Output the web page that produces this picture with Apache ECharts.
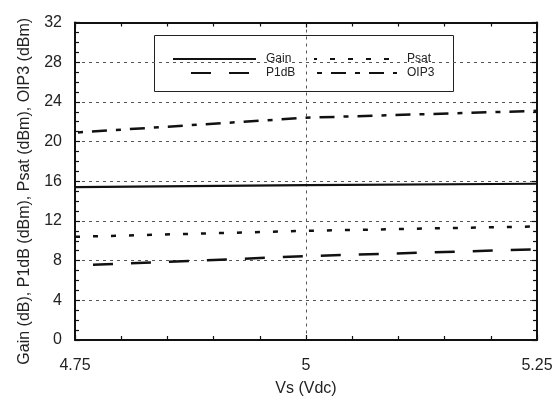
<!DOCTYPE html>
<html>
<head>
<meta charset="utf-8">
<script src="https://cdn.jsdelivr.net/npm/echarts@6/dist/echarts.min.js"></script>
<style>html,body{margin:0;padding:0;background:#fff}#c{width:559px;height:402px}</style>
</head>
<body>
<div id="c"></div>
<script>
var vs = [4.75, 5.0, 5.25];
var gain = [15.4, 15.6, 15.75];
var psat = [10.4, 11.0, 11.45];
var p1db = [7.5, 8.45, 9.15];
var oip3 = [20.9, 22.4, 23.1];
var xTicks = [4.75, 5, 5.25];
var yTicks = [0, 4, 8, 12, 16, 20, 24, 28, 32];

function pairs(ys){ return vs.map(function(x,i){return [x, ys[i]];}); }

var FONT = 'Liberation Sans, Arial, Helvetica, sans-serif';
var chart = echarts.init(document.getElementById('c'), null, {renderer:'canvas'});

var gridStyle = {show:true, lineStyle:{color:'#555', width:1, type:[3,4]}};
var axisLineStyle = {show:true, onZero:false, lineStyle:{color:'#111', width:2}};
var legendCommon = {
  orient:'vertical', top:52, padding:0, itemGap:0,
  itemWidth:83, itemHeight:14,
  itemStyle:{opacity:0},
  textStyle:{fontFamily:FONT, fontSize:12, color:'#222', lineHeight:14, padding:[0,0,0,5]}
};

var option = {
  animation:false,
  backgroundColor:'#fff',
  grid:{left:75, right:22, top:22.5, bottom:62, containLabel:false},
  xAxis:[{
    type:'value', min:xTicks[0], max:xTicks[xTicks.length-1], interval:0.25,
    axisLine:axisLineStyle,
    axisTick:{show:true, inside:true, length:5, lineStyle:{color:'#111', width:1.2}},
    minorTick:{show:true, splitNumber:5, length:4, lineStyle:{color:'#111', width:1.2}},
    axisLabel:{fontFamily:FONT, fontSize:16, color:'#222', margin:18},
    splitLine:gridStyle,
    name:'Vs (Vdc)', nameLocation:'middle', nameGap:41,
    nameTextStyle:{fontFamily:FONT, fontSize:16, color:'#222'}
  },{
    type:'value', position:'top', min:xTicks[0], max:xTicks[xTicks.length-1], interval:0.25,
    axisLine:axisLineStyle,
    axisTick:{show:true, inside:true, length:5, lineStyle:{color:'#111', width:1.2}},
    minorTick:{show:true, splitNumber:5, length:4, lineStyle:{color:'#111', width:1.2}},
    axisLabel:{show:false}, splitLine:{show:false}
  }],
  yAxis:[{
    type:'value', min:yTicks[0], max:yTicks[yTicks.length-1], interval:4,
    axisLine:axisLineStyle,
    axisTick:{show:true, inside:true, length:5, lineStyle:{color:'#111', width:1.2}},
    minorTick:{show:true, splitNumber:4, length:4, lineStyle:{color:'#111', width:1.2}},
    axisLabel:{fontFamily:FONT, fontSize:16, color:'#222', margin:13},
    splitLine:gridStyle,
    name:'Gain (dB), P1dB (dBm), Psat (dBm), OIP3 (dBm)', nameLocation:'middle', nameGap:42,
    nameTextStyle:{fontFamily:FONT, fontSize:16, color:'#222', padding:[0,20,0,0]}
  },{
    type:'value', position:'right', min:yTicks[0], max:yTicks[yTicks.length-1], interval:4,
    axisLine:axisLineStyle,
    axisTick:{show:true, inside:true, length:5, lineStyle:{color:'#111', width:1.2}},
    minorTick:{show:true, splitNumber:4, length:4, lineStyle:{color:'#111', width:1.2}},
    axisLabel:{show:false}, splitLine:{show:false}
  }],
  legend:[
    Object.assign({}, legendCommon, {left:172, data:['Gain','P1dB']}),
    Object.assign({}, legendCommon, {left:313, data:['Psat','OIP3']})
  ],
  graphic:[{
    type:'rect', left:154, top:35, z:-1,
    shape:{width:299, height:56},
    style:{fill:'#fff', stroke:'#222', lineWidth:1}
  }],
  series:[
    {name:'Gain', type:'line', data:pairs(gain), symbol:'none', z:5,
     lineStyle:{color:'#111', width:2.2, type:'solid'}, itemStyle:{color:'#111'}},
    {name:'Psat', type:'line', data:pairs(psat), symbol:'none', z:5,
     lineStyle:{color:'#111', width:2.5, type:[5,13]}, itemStyle:{color:'#111'}},
    {name:'P1dB', type:'line', data:pairs(p1db), symbol:'none', z:5,
     lineStyle:{color:'#111', width:2.5, type:[20,18], dashOffset:20}, itemStyle:{color:'#111'}},
    {name:'OIP3', type:'line', data:pairs(oip3), symbol:'none', z:5,
     lineStyle:{color:'#111', width:2.5, type:[15,9,5,9], dashOffset:21}, itemStyle:{color:'#111'}}
  ]
};
chart.setOption(option);
</script>
</body>
</html>
